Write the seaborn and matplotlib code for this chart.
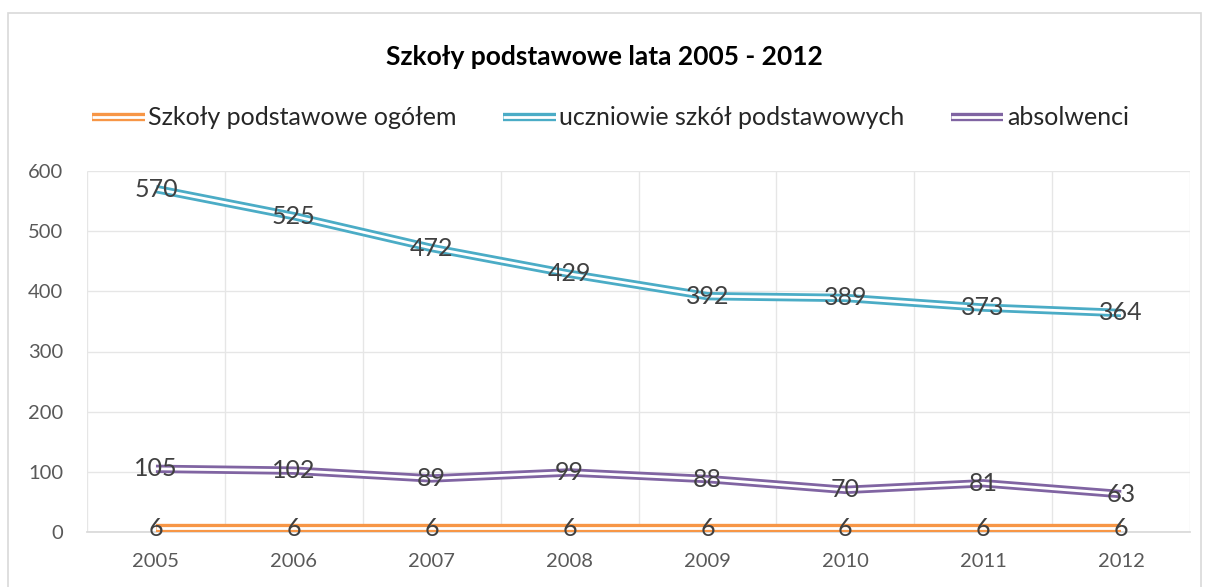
import matplotlib
matplotlib.use("Agg")
import matplotlib.pyplot as plt
import matplotlib.patheffects as pe
import pandas as pd
import seaborn as sns
from matplotlib.lines import Line2D
from matplotlib.patches import Rectangle

years = ["2005", "2006", "2007", "2008", "2009", "2010", "2011", "2012"]
szkoly = [6, 6, 6, 6, 6, 6, 6, 6]
uczniowie = [570, 525, 472, 429, 392, 389, 373, 364]
absolwenci = [105, 102, 89, 99, 88, 70, 81, 63]

names = ["Szkoły podstawowe ogółem", "uczniowie szkół podstawowych", "absolwenci"]
colors = ["#F79646", "#4BACC6", "#8064A2"]

rows = []
for name, vals in zip(names, [szkoly, uczniowie, absolwenci]):
    for i, v in enumerate(vals):
        rows.append({"idx": i, "rok": years[i], "seria": name, "value": v})
df = pd.DataFrame(rows)

sns.set_theme(style="white")
plt.rcParams["font.family"] = ["Lato", "DejaVu Sans"]
plt.rcParams["lines.solid_capstyle"] = "butt"

fig = plt.figure(figsize=(12.09, 5.87), dpi=100)
ax = fig.add_axes([87 / 1209, 1 - 532 / 587, (1190 - 87) / 1209, (532 - 171) / 587])

# outer chart frame
fig.patches.append(Rectangle((8 / 1209, -0.05), (1201 - 8) / 1209, 1.05 - 13 / 587,
                             transform=fig.transFigure, fill=False,
                             edgecolor="#D9D9D9", linewidth=1.2))

OUTER, INNER = 6.0, 2.0


def double(color):
    # thick coloured stroke under a thin white one -> "double" compound line
    return [pe.Stroke(linewidth=OUTER, foreground=color), pe.Normal()]


sns.lineplot(data=df, x="idx", y="value", hue="seria", palette=colors,
             linewidth=OUTER, ax=ax, legend=False, zorder=3)
for line in ax.lines:
    c = line.get_color()
    line.set_color("white")
    line.set_linewidth(INNER)
    line.set_path_effects(double(c))

for _, r in df.iterrows():
    ax.text(r["idx"], r["value"], str(r["value"]), ha="center", va="center",
            fontsize=18, color="#404040", zorder=5)

ax.set_xlim(-0.5, 7.5)
ax.set_ylim(0, 600)
ax.set_yticks(range(0, 601, 100))
ax.set_xticks(range(8))
ax.set_xticklabels(years)
ax.set_xticks([i + 0.5 for i in range(-1, 8)], minor=True)
ax.grid(False)
ax.yaxis.grid(True, color="#E6E6E6", linewidth=1)
ax.xaxis.grid(True, which="minor", color="#E6E6E6", linewidth=1)
ax.set_axisbelow(True)
ax.tick_params(axis="both", which="both", length=0, labelsize=14.5, labelcolor="#595959")
ax.tick_params(axis="y", pad=17)
ax.tick_params(axis="x", pad=15)
ax.set_xlabel("")
ax.set_ylabel("")
for s in ["top", "right", "left"]:
    ax.spines[s].set_visible(False)
ax.spines["bottom"].set_color("#D9D9D9")

fig.text(0.5, 1 - 57 / 587, "Szkoły podstawowe lata 2005 - 2012", ha="center",
         va="center", fontsize=19, fontweight="bold", color="black")

handles = [Line2D([], [], color="white", linewidth=INNER, path_effects=double(c))
           for c in colors]
fig.legend(handles, names, loc="center", bbox_to_anchor=(0.505, 1 - 118 / 587),
           ncol=3, frameon=False, fontsize=18, handlelength=2.1,
           handletextpad=0.15, columnspacing=1.85)

fig.savefig("out.png", dpi=100)
